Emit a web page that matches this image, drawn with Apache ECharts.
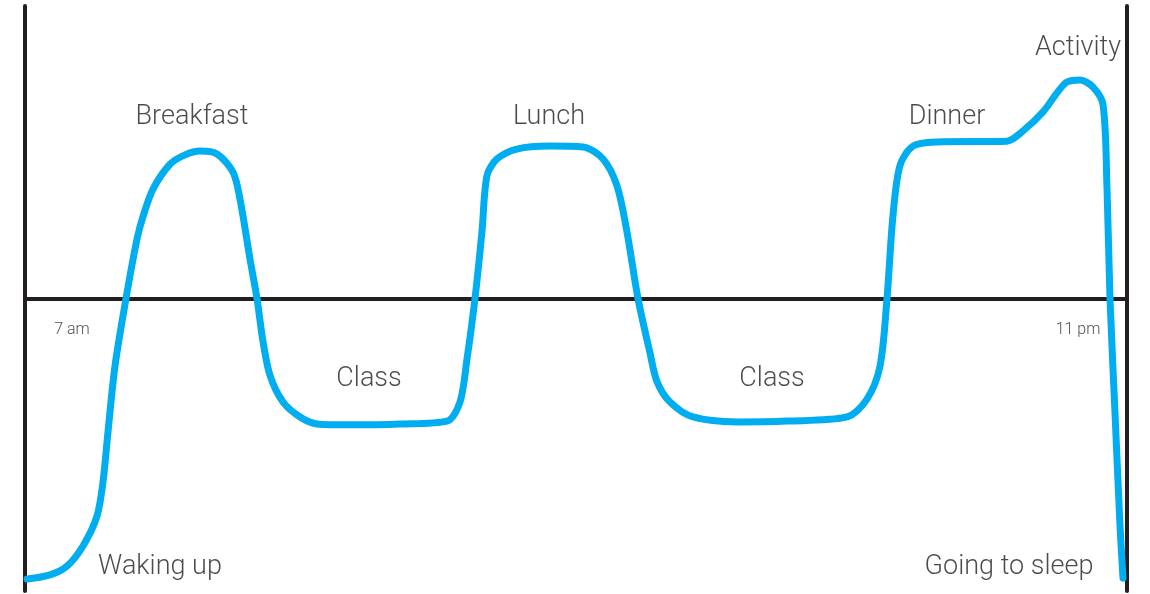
<!DOCTYPE html>
<html>
<head>
<meta charset="utf-8">
<title>A day</title>
<script src="https://cdn.jsdelivr.net/npm/echarts@6/dist/echarts.min.js"></script>
<style>
  html, body { margin: 0; padding: 0; background: #fff; }
  #main { width: 1150px; height: 594px; }
</style>
</head>
<body>
<div id="main"></div>
<script>
// time along the day (0 = left edge, 1102 = right edge)
var dayTime = [2, 25, 42, 58, 72, 78, 83, 90, 101, 112, 118, 128, 145, 160, 175, 192, 208, 215, 225, 232,
  238, 245, 258, 275, 292, 325, 375, 422, 435, 442, 450, 457, 462, 472, 492, 525, 558, 578, 592, 602,
  613, 625, 632, 645, 668, 712, 762, 822, 842, 855, 862, 868, 875, 888, 912, 982, 998, 1018, 1032, 1042,
  1055, 1068, 1078, 1082, 1085, 1090, 1095, 1098];
// energy level, -100 .. 100
var energy = [-95.9, -94.5, -91.5, -84.6, -74.4, -62.7, -45.6, -23.1, 0, 20.3, 28.0, 37.4, 45.9, 49.1, 50.4, 49.4, 43.2, 34.0, 13.5, 0,
  -14.7, -26.3, -35.4, -40.5, -42.9, -43.2, -42.9, -41.9, -35.4, -20.7, 0, 22.9, 42.0, 47.7, 51.1, 52.1, 51.8, 47.7, 38.5, 22.7,
  0, -18.6, -28.4, -35.4, -40.5, -42.2, -41.9, -40.5, -34.4, -23.1, 0, 28.4, 45.5, 52.1, 53.5, 53.8, 57.3, 63.8, 70.3, 74.0,
  74.7, 72.3, 66.3, 37.8, 0, -39.1, -77.6, -95.6];

var eventNames = ['Breakfast', 'Lunch', 'Dinner', 'Activity', 'Class', 'Class', 'Waking up', 'Going to sleep'];
var eventTime = [167, 524, 922, 1053, 344, 747, 135, 984];
var eventLevel = [62.0, 62.0, 62.0, 85.5, -27.7, -27.7, -92.0, -92.0];

var hourNames = ['7 am', '11 pm'];
var hourTime = [47, 1053];
var hourLevel = [-10.8, -10.8];

function pairs(xs, ys, names) {
  return xs.map(function (x, i) {
    var p = { value: [x, ys[i]] };
    if (names) p.name = names[i];
    return p;
  });
}

var ink = '#231f20';
var chart = echarts.init(document.getElementById('main'));
chart.setOption({
  animation: false,
  grid: { left: 25, right: 23, top: 6, bottom: 3 },
  xAxis: {
    type: 'value', min: 0, max: 1102,
    axisLine: { onZero: true, lineStyle: { color: ink, width: 4 } },
    axisTick: { show: false }, axisLabel: { show: false }, splitLine: { show: false }
  },
  yAxis: [
    {
      type: 'value', min: -100, max: 100, position: 'left',
      axisLine: { show: true, onZero: false, lineStyle: { color: ink, width: 4 } },
      axisTick: { show: false }, axisLabel: { show: false }, splitLine: { show: false }
    },
    {
      type: 'value', min: -100, max: 100, position: 'right',
      axisLine: { show: true, onZero: false, lineStyle: { color: ink, width: 4 } },
      axisTick: { show: false }, axisLabel: { show: false }, splitLine: { show: false }
    }
  ],
  series: [
    {
      type: 'line',
      data: pairs(dayTime, energy),
      smooth: 0.3,
      symbol: 'none',
      lineStyle: { color: '#00aeef', width: 7, cap: 'round', join: 'round' },
      z: 5
    },
    {
      type: 'scatter',
      data: pairs(eventTime, eventLevel, eventNames),
      symbolSize: 0,
      label: {
        show: true, position: 'inside', formatter: '{b}',
        color: '#1e1e1e', fontFamily: 'Roboto', fontWeight: 300, fontSize: 27
      },
      z: 6
    },
    {
      type: 'scatter',
      data: pairs(hourTime, hourLevel, hourNames),
      symbolSize: 0,
      label: {
        show: true, position: 'inside', formatter: '{b}',
        color: '#1e1e1e', fontFamily: 'Roboto', fontWeight: 300, fontSize: 16
      },
      z: 6
    }
  ]
});
</script>
</body>
</html>
